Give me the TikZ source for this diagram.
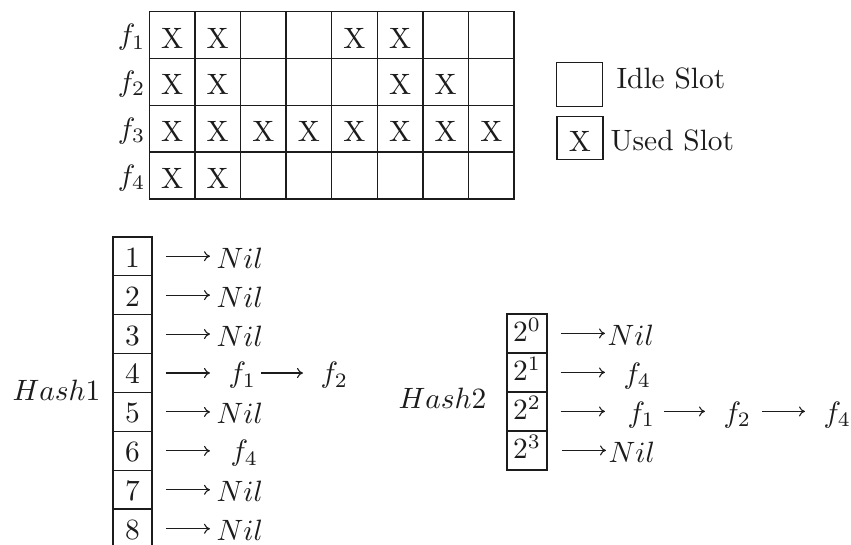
\documentclass[tikz,border=0pt]{standalone}
\usetikzlibrary{arrows.meta,calc}
\definecolor{ink}{RGB}{28,28,28}
\newdimen\pxu \pxu=0.34pt
\begin{document}
\begin{tikzpicture}[x=0.34pt,y=-0.34pt,color=ink,
 big/.style={font=\normalsize},
 cell/.style={draw, line width=1.4\pxu, minimum width=45.6\pxu, minimum height=46.8\pxu, inner sep=0pt, text height=26\pxu, text depth=0pt, big},
 hbox/.style={draw, line width=1.6\pxu, minimum width=39\pxu, minimum height=38.9\pxu, inner sep=0pt, big},
 lbl/.style={inner sep=0pt, big},
 arr/.style={line width=0.37pt, -{Computer Modern Rightarrow[length=2.04pt,width=3.4pt]}}]
\clip (0,0) rectangle (851,544);
\fill[white] (0,0) rectangle (851,544);

% slot grid
\foreach \r/\pat in {1/{1,1,0,0,1,1,0,0},2/{1,1,0,0,0,1,1,0},3/{1,1,1,1,1,1,1,1},4/{1,1,0,0,0,0,0,0}}{
  \node[lbl, anchor=base east] (f\r) at (146,{-11.7+46.8*\r+9.5}) {$f_{\r}$};
  \foreach \v [count=\c] in \pat {
    \node[cell] (g\r\c) at ({126.5+45.6*\c},{-11.7+46.8*\r}) {\ifnum\v=1 X\fi};
  }
}

% legend
\node[cell, minimum width=45.5\pxu, minimum height=44\pxu] (idle) at (579.5,84.5) {};
\node[lbl, anchor=base west] (idletxt) at (616,88.3) {Idle Slot};
\node[cell, minimum width=46\pxu, minimum height=43\pxu] (used) at (580,138) {X};
\node[lbl, anchor=base west] (usedtxt) at (610,150) {Used Slot};

% Hash1
\foreach \i in {1,...,8}
  \node[hbox, text height=22\pxu, text depth=0pt] (a\i) at (132.5,{236.7+38.94*(\i-0.5)}) {\i};
\node[lbl, anchor=base west] (h1) at (12,400) {$Hash1$};
\foreach \i in {1,2,3,5,7,8}{
  \node[lbl, anchor=base west] (n\i) at (216,{236.7+38.94*(\i-0.5)+12}) {$Nil$};
  \draw[arr] ($(a\i.east)+(13,0)$) -- ($(a\i.east -| n\i.west)+(-6,0)$);
}
\node[lbl, anchor=base west] (t41) at (228,{236.7+38.94*3.5+10}) {$f_1$};
\node[lbl, anchor=base west] (t42) at (320,{236.7+38.94*3.5+10}) {$f_2$};
\draw[arr] ($(a4.east)+(13,0)$) -- ($(a4.east -| t41.west)+(-18,0)$);
\draw[arr] ($(a4.east -| t41.east)+(4,0)$) -- ($(a4.east -| t42.west)+(-17,0)$);
\node[lbl, anchor=base west] (t61) at (230,{236.7+38.94*5.5+10}) {$f_4$};
\draw[arr] ($(a6.east)+(13,0)$) -- ($(a6.east -| t61.west)+(-20,0)$);

% Hash2
\foreach \k in {0,...,3}
  \node[hbox, minimum width=40\pxu, text height=24\pxu, text depth=7\pxu] (b\k) at (527,{333.4+39*\k}) {$2^{\k}$};
\node[lbl, anchor=base west] (h2) at (398,408) {$Hash2$};
\node[lbl, anchor=base west] (m0) at (607,{333.4+11.6}) {$Nil$};
\draw[arr] ($(b0.east)+(13,0)$) -- ($(b0.east -| m0.west)+(-2,0)$);
\node[lbl, anchor=base west] (m3) at (608,{333.4+39*3+11.6}) {$Nil$};
\draw[arr] ($(b3.east)+(14,0)$) -- ($(b3.east -| m3.west)+(-2,0)$);
\node[lbl, anchor=base west] (p1) at (623,{333.4+39+11}) {$f_4$};
\draw[arr] ($(b1.east)+(13,0)$) -- ($(b1.east -| p1.west)+(-18,0)$);
\node[lbl, anchor=base west] (q1) at (627,{333.4+78+11}) {$f_1$};
\node[lbl, anchor=base west] (q2) at (723,{333.4+78+11}) {$f_2$};
\node[lbl, anchor=base west] (q3) at (823,{333.4+78+11}) {$f_4$};
\draw[arr] ($(b2.east)+(13,0)$) -- ($(b2.east -| q1.west)+(-22,0)$);
\draw[arr] ($(b2.east -| q1.east)+(8,0)$) -- ($(b2.east -| q2.west)+(-18,0)$);
\draw[arr] ($(b2.east -| q2.east)+(10,0)$) -- ($(b2.east -| q3.west)+(-18,0)$);
\end{tikzpicture}
\end{document}
